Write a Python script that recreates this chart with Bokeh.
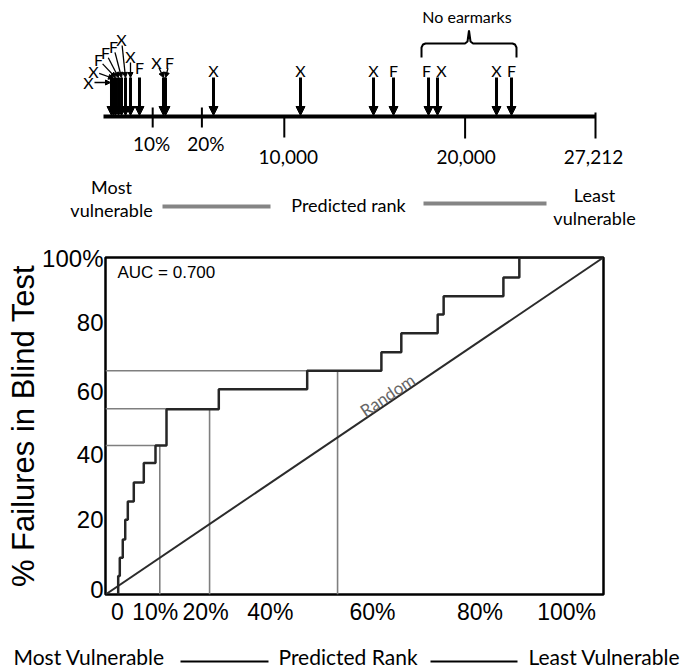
import math
from bokeh.plotting import figure
from bokeh.layouts import column
from bokeh.models import Range1d, FixedTicker, Arrow, NormalHead, ColumnDataSource
from bokeh.core.properties import value
from bokeh.embed import file_html
from bokeh.resources import INLINE

# ---------------- data ----------------
total_rank = 27212
fail_rank = [442, 553, 664, 830, 996, 1217, 1493, 1991, 3318, 3429,
             6084, 10896, 14934, 16040, 17976, 18473, 21737, 22566]
fail_type = ["X", "X", "F", "F", "F", "X", "X", "F", "X", "F",
             "X", "X", "X", "F", "F", "X", "X", "F"]
rank_ticks = [2721, 5442, 10000, 20000, 27212]
rank_tick_labels = ["10%", "20%", "10,000", "20,000", "27,212"]
no_earmark_first, no_earmark_last = 17976, 22566

roc_fpr = [2.55, 2.87, 3.47, 3.96, 4.48, 5.68, 7.69, 10.04, 12.25, 12.25,
           22.75, 40.5, 55.4, 59.4, 66.7, 67.9, 79.9, 83.1]
roc_tpr = [5.5, 10.9, 16.3, 22.2, 27.6, 33.2, 39.0, 44.2, 50.0, 55.0,
           60.9, 66.4, 71.9, 77.5, 83.1, 88.5, 94.1, 100.0]
ref_fpr = [10.9, 20.9, 46.6]
ref_tpr = [44.2, 55.1, 66.4]
x_tick_pos = [2.4, 10.0, 20.1, 33.1, 53.6, 75.2, 92.6]
x_tick_labels = ["0", "10%", "20%", "40%", "60%", "80%", "100%"]
y_tick_pos = [1.5, 22.2, 41.4, 60.1, 80.8, 99.7]
y_tick_labels = ["0", "20", "40", "60", "80", "100%"]
auc_text = "AUC = 0.700"

# ---------------- layout constants (image pixels) ----------------
W = 684
S = 492 / total_rank          # px per rank unit on the number line
X0 = 103                      # image px of rank 0


def r(px):
    return (px - X0) / S


def rpx(rank):
    return X0 + rank * S


CAL = value("Lato")

# ---------------- top panel ----------------
top = figure(width=W, height=240, x_range=Range1d(r(0), r(W)), y_range=Range1d(240, 0),
             x_axis_type=None, y_axis_type=None, min_border=0, frame_align=False,
             toolbar_location=None, output_backend="svg")
top.outline_line_color = None

top.line([0, total_rank], [116, 116], line_width=4, color="black")
tick_y0 = [107, 107, 116, 116, 112]
tick_y1 = [127, 127, 137, 138, 138]
top.segment(x0=rank_ticks, y0=tick_y0, x1=rank_ticks, y1=tick_y1, line_width=2, color="black")
lab_dx = [-1, 4, 4, 1, -2]
lab_y = [143, 143, 156, 156, 156]
top.text(x=[t + d / S for t, d in zip(rank_ticks, lab_dx)], y=lab_y, text=rank_tick_labels,
         text_font=CAL, text_font_size="19px", text_align="center", text_baseline="middle",
         text_color="black")

n = len(fail_rank)
src = ColumnDataSource(dict(x=fail_rank, y0=[77] * n, y1=[115] * n))
top.add_layout(Arrow(end=NormalHead(size=9, fill_color="black", line_color="black", line_width=1),
                     x_start="x", y_start="y0", x_end="x", y_end="y1", source=src,
                     line_width=3, line_color="black"))

label_dx = [-23, -20, -17, -13, -8, -4, 0, 0, -7, 4,
            0, 0, 0, 0, -2, 4, 0, 0]
label_y = [82, 71, 59, 52, 46, 39, 56, 67, 62, 62] + [70] * 8
has_leader = [True] * 7 + [False, True, True] + [False] * 8
target_y = [82, 78, 77, 77, 77, 77, 77, 77, 77, 77] + [77] * 8

lx = [rk + d / S for rk, d in zip(fail_rank, label_dx)]
top.text(x=lx, y=label_y, text=fail_type, text_font=CAL, text_font_size="16px",
         text_align="center", text_baseline="middle", text_color="black")

ls = dict(xs=[], ys=[], xe=[], ye=[])
for i in range(n):
    if not has_leader[i]:
        continue
    px_l = rpx(fail_rank[i]) + label_dx[i]
    py_l = label_y[i]
    px_t = rpx(fail_rank[i]) - (1 if i == 0 else 0)
    py_t = target_y[i]
    dx, dy = px_t - px_l, py_t - py_l
    d = math.hypot(dx, dy)
    ux, uy = dx / d, dy / d
    ls["xs"].append(r(px_l + 6 * ux))
    ls["ys"].append(py_l + 6 * uy)
    ls["xe"].append(r(px_t))
    ls["ye"].append(py_t)
top.add_layout(Arrow(end=NormalHead(size=5, fill_color="black", line_color="black", line_width=1),
                     x_start="xs", y_start="ys", x_end="xe", y_end="ye",
                     source=ColumnDataSource(ls), line_width=1.3, line_color="black"))

# bracket "No earmarks"
bl = no_earmark_first - 7 / S
br = no_earmark_last + 5 / S
bm = (bl + br) / 2
u = 1 / S
bx = [bl, bl, bl + 1.5 * u, bl + 4 * u, bm - 4 * u, bm - 1.5 * u, bm, bm + 1.5 * u, bm + 4 * u,
      br - 4 * u, br - 1.5 * u, br, br]
by = [57, 47, 44, 43, 43, 41, 30, 41, 43, 43, 44, 47, 57]
top.line(bx, by, line_width=2, color="black")
top.text(x=[bm - 2 * u], y=[16], text=["No earmarks"], text_font=CAL, text_font_size="16px",
         text_align="center", text_baseline="middle", text_color="black")

# predicted-rank legend row
top.text(x=[r(111), r(111), r(348), r(594), r(594)], y=[186, 209, 204, 194, 217],
         text=["Most", "vulnerable", "Predicted rank", "Least", "vulnerable"],
         text_font=CAL, text_font_size="18px", text_align="center", text_baseline="middle",
         text_color="black")
top.segment(x0=[r(162), r(423)], y0=[206, 203], x1=[r(270), r(546)], y1=[206, 203],
            line_width=4, color="#858585")

# ---------------- ROC panel ----------------
p = figure(width=W, height=387, x_range=Range1d(0, 100), y_range=Range1d(0, 100),
           min_border_left=105, min_border_right=81, min_border_top=17, min_border_bottom=32,
           frame_align=False, toolbar_location=None, output_backend="svg")
p.grid.visible = False
p.outline_line_color = "black"
p.outline_line_width = 2.5
p.outline_line_alpha = 1.0
for ax in (p.xaxis, p.yaxis):
    ax.axis_line_color = None
    ax.major_tick_line_color = None
    ax.minor_tick_line_color = None
    ax.major_tick_out = 0
    ax.major_tick_in = 0
    ax.minor_tick_out = 0
    ax.major_label_text_font = "Liberation Sans"
    ax.major_label_text_color = "black"
p.xaxis.major_label_text_font_size = "23px"
p.yaxis.major_label_text_font_size = "24px"
p.xaxis.ticker = FixedTicker(ticks=x_tick_pos)
p.xaxis.major_label_overrides = dict(zip(x_tick_pos, x_tick_labels))
p.xaxis.major_label_standoff = 4
p.yaxis.ticker = FixedTicker(ticks=y_tick_pos)
p.yaxis.major_label_overrides = dict(zip(y_tick_pos, y_tick_labels))
p.yaxis.major_label_standoff = 2
p.yaxis.axis_label = "% Failures in Blind Test"
p.yaxis.axis_label_text_font = "Liberation Sans"
p.yaxis.axis_label_text_font_size = "31px"
p.yaxis.axis_label_text_font_style = "normal"
p.yaxis.axis_label_text_color = "black"
p.yaxis.axis_label_standoff = -2

p.multi_line(xs=[[0, x, x] for x in ref_fpr], ys=[[y, y, 0] for y in ref_tpr],
             line_color="#7f7f7f", line_width=1.6)
p.line([0, 100], [0, 100], line_color="#2b2b2b", line_width=2)

sx, sy = [roc_fpr[0]], [0.0]
prev = 0.0
for fx, ty in zip(roc_fpr, roc_tpr):
    sx += [fx, fx]
    sy += [prev, ty]
    prev = ty
sx.append(100)
sy.append(prev)
p.line(sx, sy, line_color="#262626", line_width=2.5)

p.text(x=[2.4], y=[95.6], text=[auc_text], text_font=value("Liberation Sans"),
       text_font_size="17px", text_align="left", text_baseline="middle", text_color="black")
p.text(x=[56.6], y=[59.2], text=["Random"], angle=math.atan2(338, 498),
       text_font=CAL, text_font_size="17px", text_align="center", text_baseline="middle",
       text_color="#666666")

# ---------------- bottom caption ----------------
b = figure(width=W, height=43, x_range=Range1d(0, W), y_range=Range1d(670, 627),
           x_axis_type=None, y_axis_type=None, min_border=0, frame_align=False,
           toolbar_location=None, output_backend="svg")
b.outline_line_color = None
b.text(x=[13, 278, 528], y=[656, 656, 656],
       text=["Most Vulnerable", "Predicted Rank", "Least Vulnerable"],
       text_font=CAL, text_font_size="21px", text_align="left", text_baseline="middle",
       text_color="black")
b.segment(x0=[180, 430], y0=[661, 661], x1=[268, 517], y1=[661, 661], line_width=2, color="black")

layout = column(top, p, b)
open("out.html", "w").write(file_html(layout, INLINE))
